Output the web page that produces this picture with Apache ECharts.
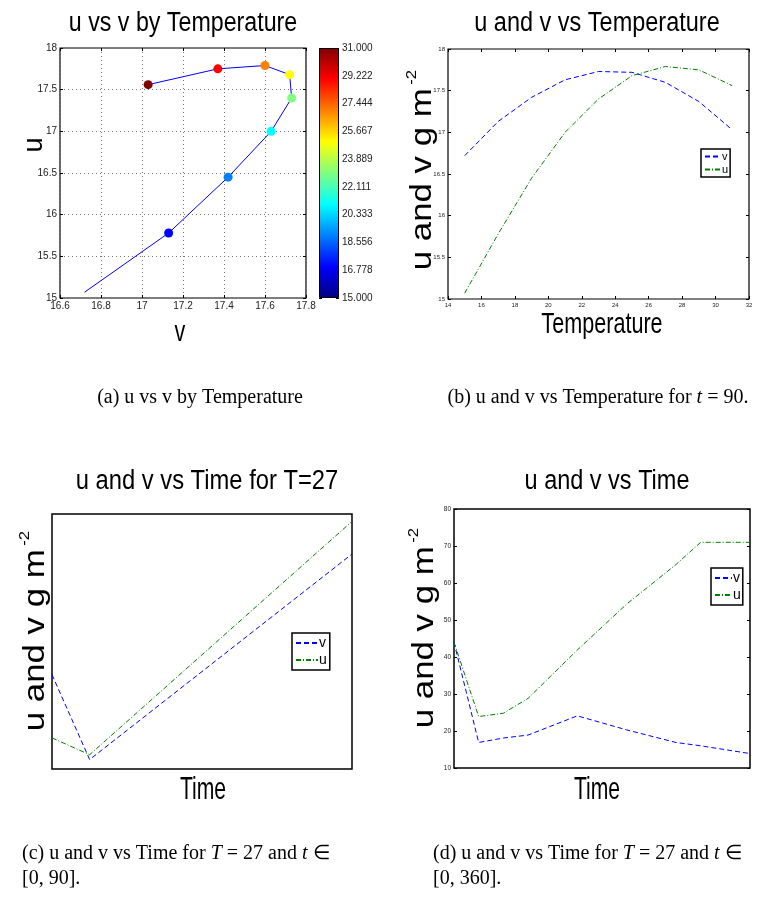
<!DOCTYPE html>
<html lang="en">
<head>
    <meta charset="UTF-8">
    <title>u and v</title>
    <style>
        * {
            margin: 0;
            padding: 0;
        }

        html, body {
            height: 100%;
            width: 100%;
            background: #fff;
        }
    </style>
    <script src="https://cdn.jsdelivr.net/npm/echarts@6/dist/echarts.min.js"></script>
</head>
<body>

<div id="main" style="width: 766px;height: 899px;"></div>

<script>
    // temperature sweep at t = 90
    var temps = [15, 17, 19, 21, 23, 25, 27, 29, 31];
    var vByTemp = [16.72, 17.13, 17.42, 17.63, 17.73, 17.72, 17.60, 17.37, 17.03];
    var uByTemp = [15.07, 15.78, 16.45, 17.00, 17.40, 17.68, 17.79, 17.75, 17.56];

    // colour bar labels
    var colorbarTicks = ['15.000', '16.778', '18.556', '20.333', '22.111', '23.889', '25.667', '27.444', '29.222', '31.000'];

    // time series for T = 27, t in [0, 90] (no scale on the axes)
    var time90 = [0, 11.3, 90];
    var v90 = [37.0, 3.7, 84.3];
    var u90 = [12.2, 5.6, 97.1];

    // time series for T = 27, t in [0, 360]
    var time360 = [0, 30, 60, 90, 150, 210, 270, 300, 360];
    var v360 = [44.0, 16.9, 18.1, 18.9, 24.1, 20.3, 16.9, 16.0, 13.9];
    var u360 = [44.0, 23.9, 24.8, 28.8, 41.9, 54.3, 65.0, 71.0, 71.0];

    var jet = ['#000080', '#0000ff', '#0080ff', '#00ffff', '#80ff80', '#ffff00', '#ff8000', '#ff0000', '#800000'];

    var SANS = 'Liberation Sans, Arial, sans-serif';
    var SERIF = 'Liberation Serif, Times New Roman, serif';
    var BLUE = '#0000ff', GREEN = '#008000';
    var DASH = [5, 3], DASHDOT = [5, 2, 1, 2];

    function pairs(xs, ys) {
        return xs.map(function (x, i) { return [x, ys[i]]; });
    }

    // plain text helper for titles / axis names / captions
    function txt(text, x, y, size, o) {
        o = o || {};
        return {
            type: 'text', x: x, y: y,
            rotation: o.rot || 0,
            scaleX: o.sx || 1,
            style: {
                text: text,
                fontSize: size,
                fontFamily: o.font || SANS,
                fill: '#000',
                align: o.align || 'center',
                verticalAlign: 'middle',
                rich: o.rich
            }
        };
    }

    // rotated "u and v g m^-2"
    function yName(x, y) {
        return txt('{a|u and v g m}{b|-2}', x, y, 29, {
            rot: Math.PI / 2, sx: 1.2,
            rich: {
                a: {fontSize: 29, fontFamily: SANS, fill: '#000', lineHeight: 32, verticalAlign: 'bottom'},
                b: {fontSize: 14, fontFamily: SANS, fill: '#000', verticalAlign: 'top', padding: [0, 0, 0, 3]}
            }
        });
    }

    var capRich = {
        r: {fontSize: 20, fontFamily: SERIF, fill: '#000'},
        i: {fontSize: 20, fontFamily: SERIF, fontStyle: 'italic', fill: '#000'}
    };

    function mirror(grid, pos, min, max, interval) {
        return {
            type: 'value', gridIndex: grid, position: pos, min: min, max: max, interval: interval,
            axisLine: {show: false},
            axisTick: {show: true, inside: true, length: 3, lineStyle: {color: '#000'}},
            axisLabel: {show: false},
            splitLine: {show: false}
        };
    }

    function mainAxis(grid, pos, min, max, interval, size, grid2) {
        return {
            type: 'value', gridIndex: grid, position: pos, min: min, max: max, interval: interval,
            axisLine: {show: false},
            axisTick: {show: true, inside: true, length: 3, lineStyle: {color: '#000'}},
            axisLabel: {fontSize: size, fontFamily: SANS, color: '#222', margin: 3},
            splitLine: grid2 ? {show: true, lineStyle: {type: [1, 3], color: '#777'}} : {show: false}
        };
    }

    function blank(grid, min, max) {
        return {
            type: 'value', gridIndex: grid, min: min, max: max,
            axisLine: {show: false}, axisTick: {show: false}, axisLabel: {show: false}, splitLine: {show: false}
        };
    }

    function legendAt(left, top, iw, ih, gap, fs, pad) {
        return {
            data: ['v', 'u'], left: left, top: top, orient: 'vertical',
            itemWidth: iw, itemHeight: ih, itemGap: gap, padding: pad,
            borderColor: '#000', borderWidth: 1.5, backgroundColor: '#fff',
            selectedMode: false,
            itemStyle: {opacity: 0},
            textStyle: {fontSize: fs, fontFamily: SANS, color: '#000', padding: [0, 0, 0, -4]}
        };
    }

    var frame = {show: true, borderColor: '#000', borderWidth: 1.2};

    var myChart = echarts.init(document.getElementById('main'), null, {renderer: 'canvas'});

    var option = {
        animation: false,
        backgroundColor: '#fff',
        grid: [
            Object.assign({left: 60, top: 48, width: 246, height: 250}, frame),
            {left: 319, top: 48, width: 20, height: 250},
            Object.assign({left: 448, top: 49, width: 301, height: 250}, frame),
            Object.assign({left: 52, top: 514, width: 300, height: 255}, frame, {borderWidth: 1.5}),
            Object.assign({left: 454, top: 509, width: 296, height: 259}, frame, {borderWidth: 1.5})
        ],
        xAxis: [
            mainAxis(0, 'bottom', 16.6, 17.8, 0.2, 10, true),
            mirror(0, 'top', 16.6, 17.8, 0.2),
            {type: 'category', gridIndex: 1, data: ['c'], show: false},
            mainAxis(2, 'bottom', 14, 32, 2, 6, false),
            mirror(2, 'top', 14, 32, 2),
            blank(3, 0, 90),
            blank(4, 0, 360)
        ],
        yAxis: [
            mainAxis(0, 'left', 15, 18, 0.5, 10, true),
            mirror(0, 'right', 15, 18, 0.5),
            {
                type: 'value', gridIndex: 1, position: 'right', min: 0, max: colorbarTicks.length - 1, interval: 1,
                axisLine: {show: false},
                axisTick: {show: true, inside: true, length: 3, lineStyle: {color: '#000'}},
                axisLabel: {
                    fontSize: 10, fontFamily: SANS, color: '#222', margin: 3,
                    formatter: function (v) { return colorbarTicks[v]; }
                },
                splitLine: {show: false}
            },
            mirror(1, 'left', 0, colorbarTicks.length - 1, 1),
            mainAxis(2, 'left', 15, 18, 0.5, 6, false),
            mirror(2, 'right', 15, 18, 0.5),
            blank(3, 0, 100),
            mainAxis(4, 'left', 10, 80, 10, 6.5, false),
            mirror(4, 'right', 10, 80, 10)
        ],
        visualMap: {
            type: 'continuous', show: false, seriesIndex: 1, dimension: 2,
            min: 15, max: 31, inRange: {color: jet}
        },
        legend: [
            legendAt(701, 149, 16, 9, 2, 11, [2, 2, 2, 3]),
            legendAt(292, 633, 22, 12, 3, 14, [3, 3, 3, 3]),
            legendAt(711, 568, 17, 13, 3, 14, [3, 2, 3, 3])
        ],
        series: [
            {
                name: 'path', type: 'line', xAxisIndex: 0, yAxisIndex: 0,
                data: pairs(vByTemp, uByTemp), symbol: 'none',
                lineStyle: {color: BLUE, width: 1}, itemStyle: {color: BLUE}
            },
            {
                name: 'points', type: 'scatter', xAxisIndex: 0, yAxisIndex: 0, symbolSize: 9, z: 5,
                itemStyle: {opacity: 1},
                data: temps.slice(1).map(function (t, i) { return [vByTemp[i + 1], uByTemp[i + 1], t]; })
            },
            {
                name: 'colorbar', type: 'bar', xAxisIndex: 2, yAxisIndex: 2, barWidth: '100%',
                data: [colorbarTicks.length - 1],
                itemStyle: {
                    borderColor: '#000', borderWidth: 1,
                    color: new echarts.graphic.LinearGradient(0, 1, 0, 0, jet.map(function (c, i) {
                        return {offset: i / (jet.length - 1), color: c};
                    }))
                }
            },
            {
                name: 'v', type: 'line', xAxisIndex: 3, yAxisIndex: 4, data: pairs(temps, vByTemp), symbol: 'none',
                lineStyle: {color: BLUE, width: 1, type: DASH}, itemStyle: {color: BLUE}
            },
            {
                name: 'u', type: 'line', xAxisIndex: 3, yAxisIndex: 4, data: pairs(temps, uByTemp), symbol: 'none',
                lineStyle: {color: GREEN, width: 1, type: DASHDOT}, itemStyle: {color: GREEN}
            },
            {
                name: 'v', type: 'line', xAxisIndex: 5, yAxisIndex: 6, data: pairs(time90, v90), symbol: 'none',
                lineStyle: {color: BLUE, width: 1, type: DASH}, itemStyle: {color: BLUE}
            },
            {
                name: 'u', type: 'line', xAxisIndex: 5, yAxisIndex: 6, data: pairs(time90, u90), symbol: 'none',
                lineStyle: {color: GREEN, width: 1, type: DASHDOT}, itemStyle: {color: GREEN}
            },
            {
                name: 'v', type: 'line', xAxisIndex: 6, yAxisIndex: 7, data: pairs(time360, v360), symbol: 'none',
                lineStyle: {color: BLUE, width: 1, type: DASH}, itemStyle: {color: BLUE}
            },
            {
                name: 'u', type: 'line', xAxisIndex: 6, yAxisIndex: 7, data: pairs(time360, u360), symbol: 'none',
                lineStyle: {color: GREEN, width: 1, type: DASHDOT}, itemStyle: {color: GREEN}
            }
        ],
        graphic: [
            // titles
            txt('u vs v by Temperature', 183, 24, 27, {sx: 0.86}),
            txt('u and v vs Temperature', 597, 24, 27, {sx: 0.87}),
            txt('u and v vs Time for T=27', 207, 482, 27, {sx: 0.88}),
            txt('u and v vs Time', 607, 482, 27, {sx: 0.87}),
            // axis names
            txt('v', 180, 333, 30, {sx: 0.72}),
            txt('u', 35, 145, 27, {rot: Math.PI / 2}),
            txt('Temperature', 602, 325, 30, {sx: 0.72}),
            yName(421, 170),
            txt('Time', 203, 790, 32, {sx: 0.66}),
            yName(34, 631),
            txt('Time', 597, 790, 32, {sx: 0.66}),
            yName(423, 628),
            // captions
            txt('{r|(a) u vs v by Temperature}', 200, 398, 20, {font: SERIF, rich: capRich}),
            txt('{r|(b) u and v vs Temperature for }{i|t}{r| = 90.}', 598, 398, 20, {font: SERIF, rich: capRich}),
            txt('{r|(c) u and v vs Time for }{i|T}{r| = 27 and }{i|t}{r| ∈}', 22, 854, 20, {font: SERIF, rich: capRich, align: 'left'}),
            txt('{r|[0, 90].}', 22, 879, 20, {font: SERIF, rich: capRich, align: 'left'}),
            txt('{r|(d) u and v vs Time for }{i|T}{r| = 27 and }{i|t}{r| ∈}', 433, 854, 20, {font: SERIF, rich: capRich, align: 'left'}),
            txt('{r|[0, 360].}', 433, 879, 20, {font: SERIF, rich: capRich, align: 'left'})
        ]
    };

    myChart.setOption(option);
</script>

</body>
</html>
